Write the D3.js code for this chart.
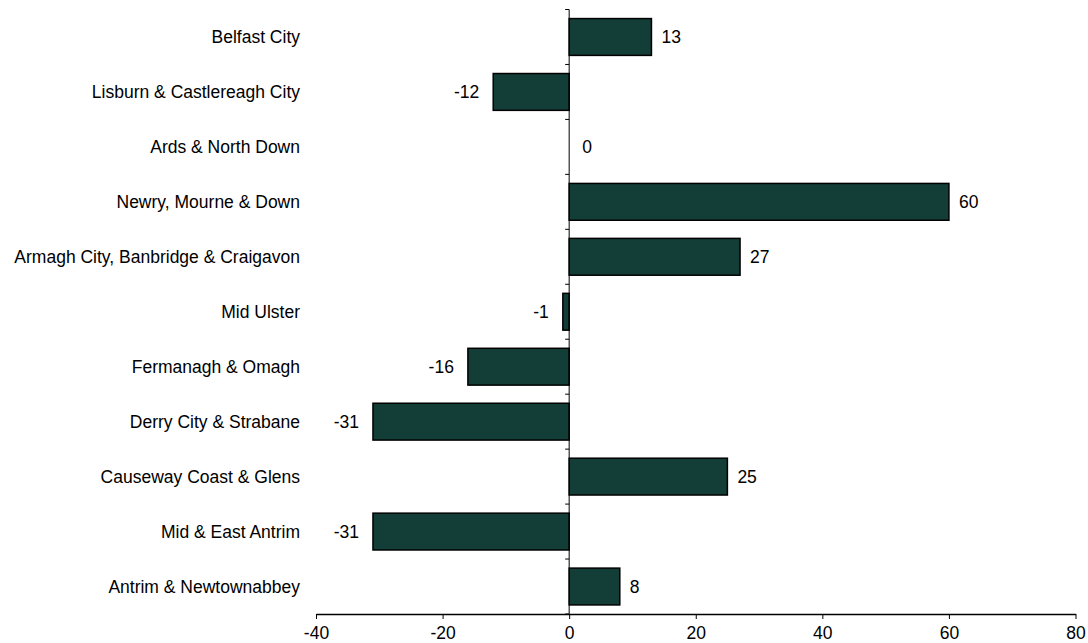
<!DOCTYPE html>
<html>
<head>
<meta charset="utf-8">
<script src="https://cdn.jsdelivr.net/npm/d3@7.9.0/dist/d3.min.js"></script>
<style>
  body { margin: 0; background: #fff; }
  svg text { font-family: "Liberation Sans", Arial, sans-serif; fill: #000; }
</style>
</head>
<body>
<svg width="1088" height="643"></svg>
<script>
// council areas, top to bottom
const councils = [
  'Belfast City',
  'Lisburn & Castlereagh City',
  'Ards & North Down',
  'Newry, Mourne & Down',
  'Armagh City, Banbridge & Craigavon',
  'Mid Ulster',
  'Fermanagh & Omagh',
  'Derry City & Strabane',
  'Causeway Coast & Glens',
  'Mid & East Antrim',
  'Antrim & Newtownabbey'
];
const changes   = [13, -12, 0, 60, 27, -1, -16, -31, 25, -31, 8];
const xTicks    = [-40, -20, 0, 20, 40, 60, 80];

const svg = d3.select('svg');
const barColor = '#133e38';
const fontSize = 17.5;

const x = d3.scaleLinear().domain([-40, 80]).range([316, 1075.5]);
const y = d3.scaleBand().domain(councils).range([9.5, 614]).paddingInner(0.33).paddingOuter(0.165);
const band = d3.scaleBand().domain(councils).range([9.5, 614]); // for the category ticks

// bars
svg.append('g')
  .selectAll('rect')
  .data(councils)
  .join('rect')
    .attr('x', (d, i) => x(Math.min(0, changes[i])))
    .attr('y', d => y(d))
    .attr('width', (d, i) => Math.abs(x(changes[i]) - x(0)))
    .attr('height', y.bandwidth())
    .attr('fill', barColor)
    .attr('stroke', '#000')
    .attr('stroke-width', 1.5)
    .attr('display', (d, i) => changes[i] === 0 ? 'none' : null);

// value labels
svg.append('g')
  .selectAll('text')
  .data(councils)
  .join('text')
    .attr('x', (d, i) => {
      const v = changes[i];
      return x(v) + (v > 0 ? 10 : v < 0 ? -14 : 13);
    })
    .attr('y', d => y(d) + y.bandwidth() / 2)
    .attr('dy', '0.35em')
    .attr('text-anchor', (d, i) => changes[i] < 0 ? 'end' : 'start')
    .attr('font-size', fontSize)
    .text((d, i) => changes[i]);

// vertical axis at zero
const yAxis = svg.append('g').attr('transform', `translate(${x(0)},0)`);
yAxis.append('line')
  .attr('y1', band.range()[0]).attr('y2', band.range()[1])
  .attr('stroke', '#000').attr('stroke-width', 1);
yAxis.selectAll('.tk')
  .data(d3.range(councils.length + 1))
  .join('line')
    .attr('class', 'tk')
    .attr('x1', -4).attr('x2', 0)
    .attr('y1', i => band.range()[0] + i * band.step())
    .attr('y2', i => band.range()[0] + i * band.step())
    .attr('stroke', '#000');

// category labels
svg.append('g')
  .selectAll('text')
  .data(councils)
  .join('text')
    .attr('x', 300)
    .attr('y', d => band(d) + band.bandwidth() / 2)
    .attr('dy', '0.35em')
    .attr('text-anchor', 'end')
    .attr('font-size', fontSize)
    .text(d => d);

// x axis
const xAxis = svg.append('g')
  .attr('transform', `translate(0,${band.range()[1]})`)
  .call(d3.axisBottom(x).tickValues(xTicks).tickFormat(d => String(d))
    .tickSize(5).tickPadding(8).tickSizeOuter(0));
xAxis.select('.domain').attr('stroke', '#000').attr('stroke-width', 1.3);
xAxis.selectAll('.tick line').attr('stroke', '#000');
xAxis.selectAll('.tick text')
  .attr('font-size', fontSize)
  .attr('font-family', '"Liberation Sans", Arial, sans-serif')
  .attr('fill', '#000');
</script>
</body>
</html>
